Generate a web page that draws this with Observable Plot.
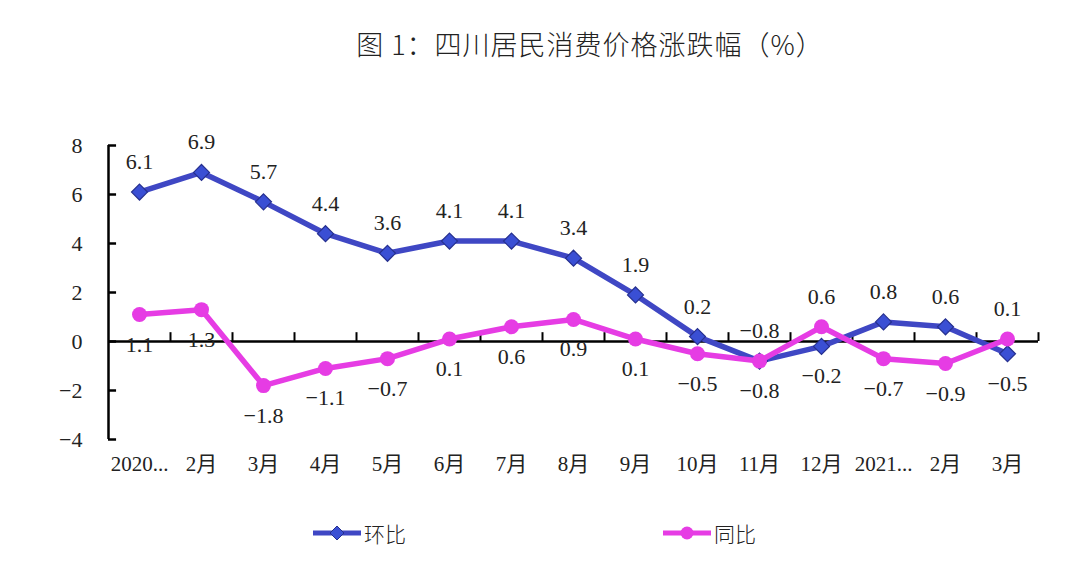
<!DOCTYPE html>
<html><head><meta charset="utf-8">
<script src="https://cdn.jsdelivr.net/npm/d3@7"></script>
<script src="https://cdn.jsdelivr.net/npm/@observablehq/plot@0.6"></script>
<style>
body{margin:0;background:#fff;}
#wrap{position:relative;width:1080px;height:567px;overflow:hidden;background:#fff;}
#title{position:absolute;top:25px;left:0;width:1080px;padding-left:100px;box-sizing:border-box;text-align:center;font-family:"Noto Sans CJK SC",sans-serif;font-weight:300;font-size:27px;letter-spacing:1px;color:#222;line-height:38px;}
#chart{position:absolute;top:0;left:0;}
.leg{position:absolute;top:520px;height:26px;display:flex;align-items:center;font-family:"Noto Sans CJK SC",sans-serif;font-weight:300;font-size:21px;color:#222;}
.leg svg{margin-right:3px;}
</style></head>
<body>
<div id="wrap">
  <div id="chart"></div>
  <div id="title">图 1：四川居民消费价格涨跌幅（%）</div>
  <div class="leg" id="leg1" style="left:313px"></div>
  <div class="leg" id="leg2" style="left:663px"></div>
</div>
<script>
const categories = ["2020...","2月","3月","4月","5月","6月","7月","8月","9月","10月","11月","12月","2021...","2月","3月"];
const huanbi = [6.1,6.9,5.7,4.4,3.6,4.1,4.1,3.4,1.9,0.2,-0.8,-0.2,0.8,0.6,-0.5];
const tongbi = [1.1,1.3,-1.8,-1.1,-0.7,0.1,0.6,0.9,0.1,-0.5,-0.8,0.6,-0.7,-0.9,0.1];
const yTicks = [-4,-2,0,2,4,6,8];
const seriesNames = ["环比","同比"];

const blue = "#3f47c4", blueFill = "#3a4fd4", blueEdge = "#26308f", pink = "#e63ce4";
const idx = d3.range(categories.length);
const rows = idx.map(i => ({i, cat: categories[i], h: huanbi[i], t: tongbi[i]}));
const fmt = v => (v < 0 ? "\u2212" : "") + Math.abs(v).toFixed(1);
const fmtInt = v => (v < 0 ? "\u2212" : "") + Math.abs(v);
const font = '"Liberation Serif","Noto Sans CJK SC",serif';

const plot = Plot.plot({
  width: 1080, height: 500,
  marginLeft: 108, marginRight: 42, marginTop: 145, marginBottom: 61,
  x: {type: "linear", domain: [-0.5, categories.length - 0.5]},
  y: {domain: [-4, 8]},
  style: {fontFamily: font, fontSize: "21px", color: "#222", background: "#fff"},
  marks: [
    Plot.axisX({ticks: idx, tickFormat: i => categories[i], tickSize: 0, tickPadding: 17, label: null, fontSize: 21}),
    Plot.axisY({ticks: yTicks, tickFormat: fmtInt, tickSize: 0, tickPadding: 26, label: null, fontSize: 22}),
    Plot.ruleX([-0.5], {y1: -4, y2: 8, stroke: "#000", strokeWidth: 2.5}),
    Plot.ruleY(yTicks, {x1: -0.5, x2: -0.37, stroke: "#000", strokeWidth: 2.5}),
    Plot.ruleY([0], {stroke: "#000", strokeWidth: 2.5}),
    Plot.ruleX(idx.map(i => i + 0.5), {y1: 0, y2: 0.36, stroke: "#000", strokeWidth: 2}),
    Plot.line(rows, {x: "i", y: "h", stroke: blue, strokeWidth: 5.5}),
    Plot.dot(rows, {x: "i", y: "h", symbol: "diamond2", r: 7.2, fill: blueFill, stroke: blueEdge, strokeWidth: 1.2}),
    Plot.line(rows, {x: "i", y: "t", stroke: pink, strokeWidth: 5.5}),
    Plot.dot(rows, {x: "i", y: "t", r: 7.5, fill: pink}),
    Plot.text(rows, {filter: d => d.h >= d.t, x: "i", y: "h", text: d => fmt(d.h), dy: -30, fill: "#222", fontSize: 22}),
    Plot.text(rows, {filter: d => d.h < d.t, x: "i", y: "h", text: d => fmt(d.h), dy: 30, fill: "#222", fontSize: 22}),
    Plot.text(rows, {filter: d => d.t > d.h, x: "i", y: "t", text: d => fmt(d.t), dy: -30, fill: "#222", fontSize: 22}),
    Plot.text(rows, {filter: d => d.t <= d.h, x: "i", y: "t", text: d => fmt(d.t), dy: 30, fill: "#222", fontSize: 22})
  ]
});
document.getElementById("chart").appendChild(plot);

function legendItem(el, name, color, kind) {
  const svg = d3.create("svg").attr("width", 48).attr("height", 20);
  svg.append("line").attr("x1", 0).attr("x2", 48).attr("y1", 10).attr("y2", 10)
    .attr("stroke", color).attr("stroke-width", 5);
  if (kind === "diamond") {
    svg.append("path").attr("d", "M24,3L31,10L24,17L17,10Z").attr("fill", blueFill).attr("stroke", blueEdge).attr("stroke-width", 1);
  } else {
    svg.append("circle").attr("cx", 24).attr("cy", 10).attr("r", 6.5).attr("fill", color);
  }
  el.appendChild(svg.node());
  const s = document.createElement("span");
  s.textContent = name;
  el.appendChild(s);
}
legendItem(document.getElementById("leg1"), seriesNames[0], blue, "diamond");
legendItem(document.getElementById("leg2"), seriesNames[1], pink, "circle");
</script>
</body></html>
